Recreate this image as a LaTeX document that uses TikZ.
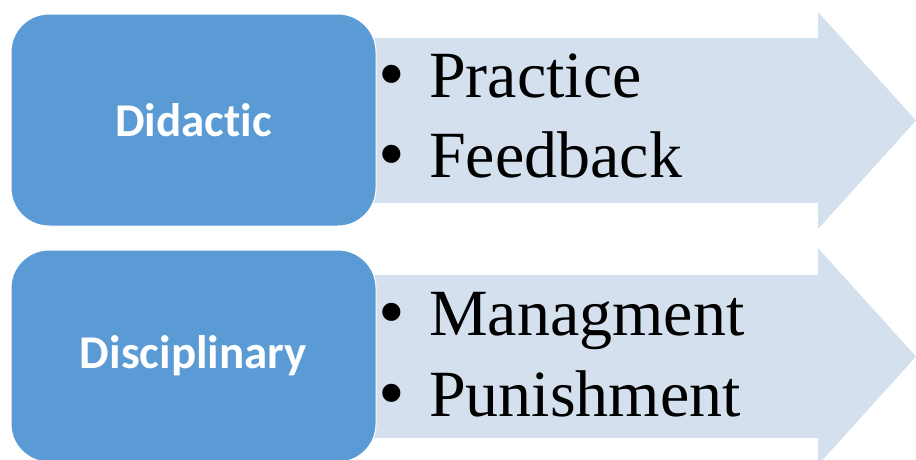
\documentclass[tikz,border=0pt]{standalone}
\usepackage{fontspec}
\setmainfont{Liberation Serif}
\newfontfamily\boxfont[Ligatures=NoCommon]{Carlito}
\definecolor{boxblue}{HTML}{5B9BD5}
\definecolor{arrowblue}{HTML}{D5E0EE}
\tikzset{
  catbox/.style={fill=boxblue, draw=white, line width=1pt, rounded corners=38pt,
    minimum width=365pt, minimum height=212pt, inner sep=0pt,
    text=white, font=\boxfont\bfseries\fontsize{47}{56}\selectfont},
  item/.style={anchor=base west, inner sep=0pt, text=black, font=\fontsize{66}{80}\selectfont},
  bul/.style={anchor=base, inner sep=0pt, text=black, font=\fontsize{76}{80}\selectfont},
  arrowshape/.style={fill=arrowblue}
}
\begin{document}
\begin{tikzpicture}[x=1pt,y=-1pt]
\useasboundingbox (0,0) rectangle (916,459);
% arrows
\fill[arrowshape] (360,38) -- (818,38) -- (818,12) -- (916,120.5) -- (818,229) -- (818,203) -- (360,203) -- cycle;
\fill[arrowshape] (360,275) -- (818,275) -- (818,248) -- (916,356.5) -- (818,465) -- (818,438) -- (360,438) -- cycle;
% category boxes
\node[catbox] (did) at (193.5,120) {Didactic};
\node[catbox] (dis) at (193.5,356) {Disciplinary};
% items
\node[bul] (b1) at (392,99) {\textbullet};
\node[item] (t1) at (429,97) {Practice};
\node[bul] (b2) at (392,179) {\textbullet};
\node[item] (t2) at (429,177) {Feedback};
\node[bul] (b3) at (392,337) {\textbullet};
\node[item] (t3) at (429,335) {Managment};
\node[bul] (b4) at (392,418) {\textbullet};
\node[item] (t4) at (429,416) {Punishment};
\end{tikzpicture}
\end{document}
